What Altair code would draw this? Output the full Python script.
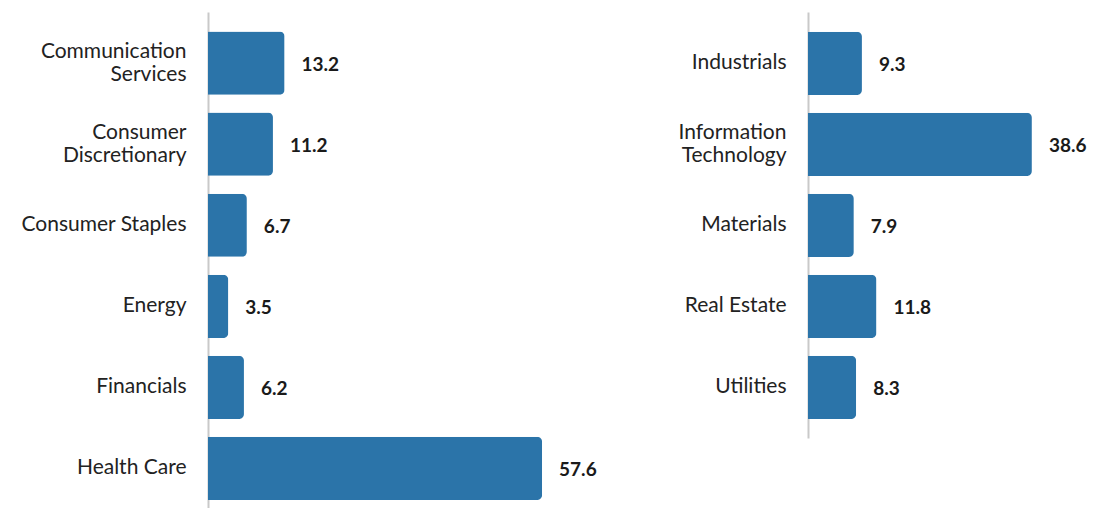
import altair as alt
import pandas as pd

left_cats = ["Communication\nServices", "Consumer\nDiscretionary", "Consumer Staples",
             "Energy", "Financials", "Health Care"]
left_vals = [13.2, 11.2, 6.7, 3.5, 6.2, 57.6]

right_cats = ["Industrials", "Information\nTechnology", "Materials", "Real Estate", "Utilities"]
right_vals = [9.3, 38.6, 7.9, 11.8, 8.3]

BAR_COLOR = "#2b74a9"
FONT = "Lato"
PX_PER_UNIT = 5.8


def panel(cats, vals, width, height, pad_outer, align):
    df = pd.DataFrame({"sector": cats, "value": vals})
    xscale = alt.Scale(domain=[0, width / PX_PER_UNIT], nice=False, zero=True)
    yenc = alt.Y(
        "sector:N",
        sort=cats,
        scale=alt.Scale(paddingInner=0.22, paddingOuter=pad_outer, align=align),
        axis=alt.Axis(
            title=None,
            ticks=False,
            domainColor="#c9c9c9",
            domainWidth=2,
            labelFont=FONT,
            labelFontSize=21,
            labelColor="#222222",
            labelPadding=22,
            labelLineHeight=23,
            labelLimit=300,
            minExtent=200,
            maxExtent=200,
            labelOffset={"condition": {"test": "indexof(datum.value, '\\n') >= 0", "value": -11},
                         "value": 0},
            labelExpr="split(datum.label, '\\n')",
        ),
    )
    bars = alt.Chart(df).mark_bar(color=BAR_COLOR, cornerRadiusEnd=5).encode(
        x=alt.X("value:Q", scale=xscale, axis=None),
        y=yenc,
    )
    text = alt.Chart(df).mark_text(
        align="left", baseline="middle", dx=17, dy=1.5, font=FONT, fontSize=19,
        fontWeight="bold", color="#1a1a1a"
    ).encode(
        x=alt.X("value:Q", scale=xscale, axis=None),
        y=alt.Y("sector:N", sort=cats),
        text=alt.Text("value:Q", format=".1f"),
    )
    return (bars + text).properties(width=width, height=height)


left = panel(left_cats, left_vals, 400, 496, 0.17, 0.71)
right = panel(right_cats, right_vals, 250, 426, 0.24, 0.51)

chart = alt.hconcat(left, right, spacing=0).properties(
    padding={"left": 0, "top": 4, "right": 0, "bottom": 0}
).configure_view(stroke=None)

chart.save("out.html", embed_options={"renderer": "svg", "actions": False})
